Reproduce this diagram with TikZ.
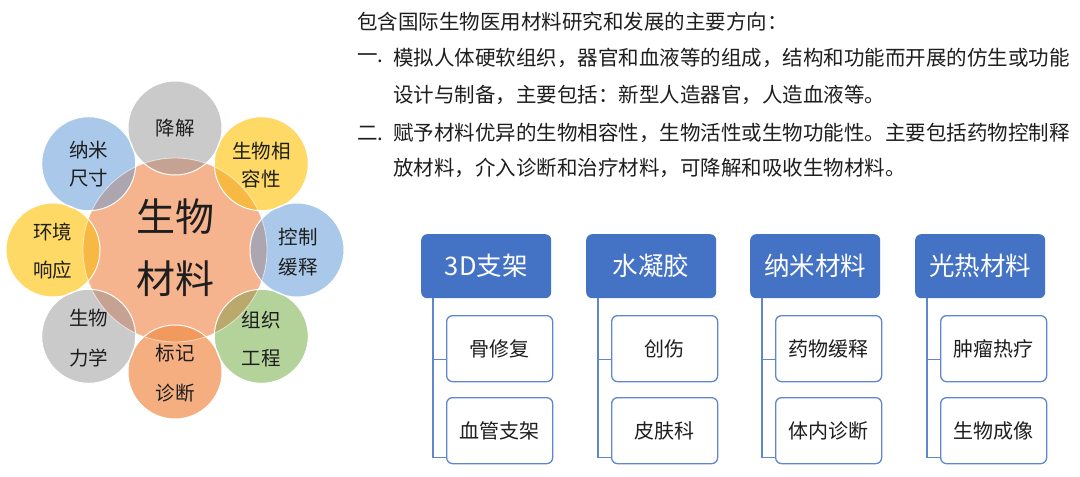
\documentclass[tikz,border=0pt]{standalone}
\usepackage{fontspec}
\setmainfont{Noto Sans CJK SC}
\usetikzlibrary{calc}
\definecolor{corange}{HTML}{F5B38E}
\definecolor{cgrey}{HTML}{CACACA}
\definecolor{ogrey}{HTML}{C6A293}
\definecolor{cyellow}{HTML}{FFD966}
\definecolor{oyellow}{HTML}{F8B944}
\definecolor{cblue}{HTML}{A9C8EA}
\definecolor{oblue}{HTML}{ADA5AF}
\definecolor{cgreen}{HTML}{B3D39A}
\definecolor{ogreen}{HTML}{BAA86C}
\definecolor{cmark}{HTML}{F4AE80}
\definecolor{omark}{HTML}{F29A5E}
\definecolor{hblue}{HTML}{4472C4}
\definecolor{ink}{HTML}{1E1E1E}
\tikzset{
  petal/.style={circle, minimum size=94pt, inner sep=0pt},
  ptxt/.style={inner sep=0pt, text=ink, font=\fontsize{19.5}{22}\selectfont},
  ctxt/.style={inner sep=0pt, text=ink, font=\fontsize{39}{44}\selectfont},
  body/.style={inner sep=0pt, anchor=west, text=ink, font=\fontsize{20.5}{24}\selectfont},
  headbox/.style={rectangle, rounded corners=6pt, fill=hblue, minimum width=130pt, minimum height=64pt, anchor=north west, text=white, font=\fontsize{25.5}{28}\selectfont, inner sep=0pt},
  childbox/.style={rectangle, rounded corners=6pt, fill=white, draw=hblue!85, line width=1.3pt, minimum width=106pt, minimum height=66pt, anchor=north west, text=ink, font=\fontsize{20}{24}\selectfont, inner sep=0pt},
  conn/.style={draw=hblue!85, line width=1.3pt}
}
\begin{document}
\begin{tikzpicture}[x=1pt,y=-1pt]
\fill[white] (0,0) rectangle (1080,477);
\useasboundingbox (0,0) rectangle (1080,477);

% ---- radial diagram ----
\node[petal, minimum size=184pt, fill=corange] (core) at (175,250) {};
\node[petal, fill=cgrey]   (p1) at (175,128) {};
\node[petal, fill=cyellow] (p2) at (261.3,163.7) {};
\node[petal, fill=cblue]   (p3) at (297,250) {};
\node[petal, fill=cgreen]  (p4) at (261.3,336.3) {};
\node[petal, fill=cmark]   (p5) at (175,372) {};
\node[petal, fill=cgrey]   (p6) at (88.7,336.3) {};
\node[petal, fill=cyellow] (p7) at (53,250) {};
\node[petal, fill=cblue]   (p8) at (88.7,163.7) {};
\begin{scope}
  \clip (core) circle (92);
  \fill[ogrey]   (p1) circle (47);
  \fill[oyellow] (p2) circle (47);
  \fill[oblue]   (p3) circle (47);
  \fill[ogreen]  (p4) circle (47);
  \fill[omark]   (p5) circle (47);
  \fill[ogrey]   (p6) circle (47);
  \fill[oyellow] (p7) circle (47);
  \fill[oblue]   (p8) circle (47);
\end{scope}
\draw[white, opacity=0.6, line width=0.8pt] (core) circle (92);
\foreach \p in {p1,p2,p3,p4,p5,p6,p7,p8}{
  \draw[white, line width=1pt] (\p) circle (47);
}
\node[ctxt] (core1) at (175,217) {生物};
\node[ctxt] (core2) at (175,279) {材料};
\node[ptxt] (t1) at (175,128) {降解};
\node[ptxt] (t2a) at (261.3,151) {生物相};
\node[ptxt] (t2b) at (261.3,179) {容性};
\node[ptxt] (t3a) at (298,237) {控制};
\node[ptxt] (t3b) at (298,267) {缓释};
\node[ptxt] (t4a) at (261.3,320) {组织};
\node[ptxt] (t4b) at (261.3,358) {工程};
\node[ptxt] (t5a) at (175,353) {标记};
\node[ptxt] (t5b) at (175,393) {诊断};
\node[ptxt] (t6a) at (88.7,318) {生物};
\node[ptxt] (t6b) at (88.7,358) {力学};
\node[ptxt] (t7a) at (53,232) {环境};
\node[ptxt] (t7b) at (53,270) {响应};
\node[ptxt] (t8a) at (88.7,150) {纳米};
\node[ptxt] (t8b) at (88.7,178) {尺寸};

% ---- text block ----
\node[body] (l0) at (357,22) {包含国际生物医用材料研究和发展的主要方向：};
\node[body] (n1) at (357,58) {一.};
\node[body] (l1) at (393,58) {模拟人体硬软组织，器官和血液等的组成，结构和功能而开展的仿生或功能};
\node[body] (l2) at (393,95) {设计与制备，主要包括：新型人造器官，人造血液等。};
\node[body] (n2) at (357,133) {二.};
\node[body] (l3) at (393,133) {赋予材料优异的生物相容性，生物活性或生物功能性。主要包括药物控制释};
\node[body] (l4) at (393,168) {放材料，介入诊断和治疗材料，可降解和吸收生物材料。};

% ---- hierarchy lists ----
\foreach \i/\x/\h/\ca/\cb in {1/421/3D支架/骨修复/血管支架, 2/586/水凝胶/创伤/皮肤科, 3/750/纳米材料/药物缓释/体内诊断, 4/915/光热材料/肿瘤热疗/生物成像}{
  \node[headbox] (h\i) at (\x,234) {\h};
  \node[childbox] (c\i a) at (\x+25,315) {\ca};
  \node[childbox] (c\i b) at (\x+25,397) {\cb};
  \coordinate (j\i) at ($(h\i.south west)+(12,0)$);
  \coordinate (e\i a) at ($(c\i a.south west)+(0,-23)$);
  \coordinate (e\i b) at ($(c\i b.south west)+(0,-7)$);
  \draw[conn] (j\i) |- (e\i b);
  \draw[conn] (j\i |- e\i a) -- (e\i a);
}
\end{tikzpicture}
\end{document}
